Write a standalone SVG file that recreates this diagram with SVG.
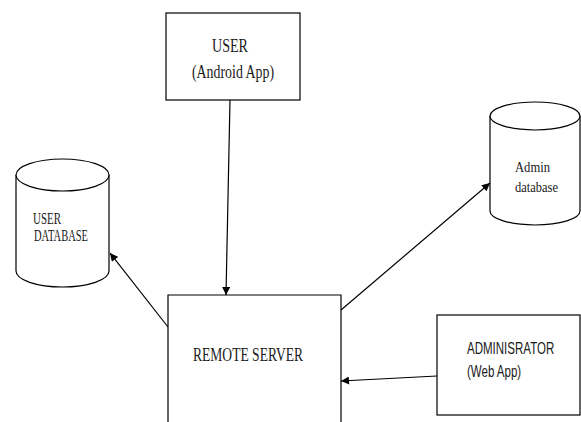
<svg xmlns="http://www.w3.org/2000/svg" width="581" height="422" viewBox="0 0 581 422">
<style>
.box{fill:#fff;stroke:#000;stroke-width:1.2}
.serif{font-family:"Liberation Serif","Times New Roman",serif;fill:#1a1a1a}
.sans{font-family:"Liberation Sans",Arial,sans-serif;fill:#1a1a1a}
.conn{stroke:#000;stroke-width:1.2;fill:none;marker-end:url(#arr)}
</style>
<defs>
<marker id="arr" viewBox="0 0 10 10" refX="10" refY="5" markerWidth="9" markerHeight="8" markerUnits="userSpaceOnUse" orient="auto">
<path d="M0,0 L10,5 L0,10 z" fill="#000"/>
</marker>
</defs>
<rect width="581" height="422" fill="#fff"/>
<g id="user">
<rect class="box" x="166" y="13" width="134" height="87"/>
<text class="serif" x="212" y="52" font-size="18.5" textLength="36" lengthAdjust="spacingAndGlyphs">USER</text>
<text class="serif" x="192" y="78" font-size="18.5" textLength="82" lengthAdjust="spacingAndGlyphs">(Android App)</text>
</g>
<g id="user-database">
<path class="box" d="M16,175 L16,271 A46.5,16 0 0 0 109,271 L109,175"/>
<ellipse class="box" cx="62.5" cy="175" rx="46.5" ry="16"/>
<text class="serif" x="33" y="224" font-size="16" textLength="28" lengthAdjust="spacingAndGlyphs">USER</text>
<text class="serif" x="34" y="241" font-size="16" textLength="54" lengthAdjust="spacingAndGlyphs">DATABASE</text>
</g>
<g id="admin-database">
<path class="box" d="M490,116 L490,211 A45,14 0 0 0 580,211 L580,116"/>
<ellipse class="box" cx="535" cy="116" rx="45" ry="14"/>
<text class="serif" x="515" y="172" font-size="15.5" textLength="35" lengthAdjust="spacingAndGlyphs">Admin</text>
<text class="serif" x="515" y="192" font-size="15.5" textLength="43" lengthAdjust="spacingAndGlyphs">database</text>
</g>
<g id="remote-server">
<path class="box" d="M168,422 L168,295 L341,295 L341,422"/>
<text class="serif" x="193" y="361" font-size="19" textLength="110" lengthAdjust="spacingAndGlyphs">REMOTE SERVER</text>
</g>
<g id="administrator">
<rect class="box" x="437" y="315" width="143" height="100"/>
<g transform="translate(467,0) scale(0.72,1)">
<text class="sans" x="0" y="354" font-size="16">ADMINISRATOR</text>
<text class="sans" x="0" y="377" font-size="16">(Web App)</text>
</g>
</g>
<g id="connectors">
<line class="conn" x1="230" y1="100" x2="226" y2="295"/>
<line class="conn" x1="168" y1="327" x2="110" y2="253"/>
<line class="conn" x1="341" y1="310" x2="490" y2="183"/>
<line class="conn" x1="437" y1="376" x2="341" y2="381"/>
</g>
</svg>
